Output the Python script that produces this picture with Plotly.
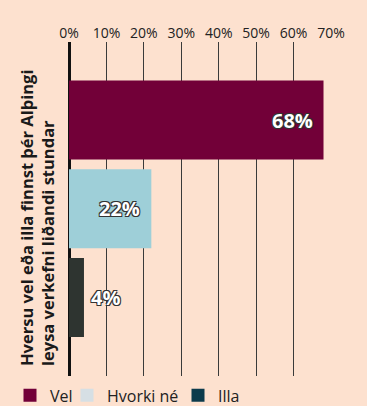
import plotly.graph_objects as go

categories = ["Vel", "Hvorki né", "Illa"]
values = [68, 22, 4]
bar_colors = ["#720038", "#9ecfd8", "#2e3430"]
legend_colors = ["#720038", "#d6dfe4", "#0c3b4c"]
label_pos = ["inside", "inside", "outside"]
tick_vals = [0, 10, 20, 30, 40, 50, 60, 70]
tick_text = [f"{v}%" for v in tick_vals]
y_title = "Hversu vel eða illa finnst þér Alþingi<br>leysa verkefni liðandi stundar"

BG = "#fde1cf"
FONT = "Open Sans"
PLOT_L, PLOT_W = 69, 262

fig = go.Figure()
fig.add_trace(go.Bar(
    x=values, y=categories, orientation="h",
    marker=dict(color=bar_colors, line=dict(width=0)),
    width=0.89, showlegend=False, hoverinfo="skip",
))

# one legend per entry so each can be placed like the reference
legend_left_px = [10, 67, 178]
legend_names = ["legend", "legend2", "legend3"]
for name, col, lg in zip(categories, legend_colors, legend_names):
    fig.add_trace(go.Scatter(
        x=[None], y=[None], mode="markers", name=name, legend=lg,
        marker=dict(symbol="square", size=13, color=col),
    ))

shadow = "1px 1px 0 #333, -1px -1px 0 #333, 1px -1px 0 #333, -1px 1px 0 #333"
for cat, v, pos in zip(categories, values, label_pos):
    inside = pos == "inside"
    fig.add_annotation(
        x=v, y=cat, text=f"<b>{v}%</b>", showarrow=False,
        xanchor="right" if inside else "left",
        xshift=-9 if inside else 5,
        font=dict(family=FONT, size=20, color="white", shadow=shadow),
    )

fig.add_annotation(
    x=(37 - PLOT_L) / PLOT_W, y=1 - (218 - 42) / 334, xref="paper", yref="paper",
    text=f"<b>{y_title}</b>",
    textangle=-90, showarrow=False, align="left",
    xanchor="center", yanchor="middle",
    font=dict(family=FONT, size=16.5, color="#1a1a1a"),
)

legend_common = dict(
    orientation="h", yanchor="middle", y=-0.058, xanchor="left",
    font=dict(family=FONT, size=16, color="#222"),
    bgcolor="rgba(0,0,0,0)", itemwidth=30,
)
layout_legends = {}
for lg, px in zip(legend_names, legend_left_px):
    layout_legends[lg] = dict(legend_common, x=(px - PLOT_L) / PLOT_W)

fig.update_layout(
    width=367, height=406,
    margin=dict(l=PLOT_L, r=367 - PLOT_L - PLOT_W, t=42, b=30, autoexpand=False),
    paper_bgcolor=BG, plot_bgcolor=BG,
    font=dict(family=FONT, color="#222"),
    showlegend=True,
    xaxis=dict(
        side="top", range=[0, 70], tickvals=tick_vals, ticktext=tick_text,
        showgrid=True, gridcolor="#3a3a3a", gridwidth=1,
        zeroline=True, zerolinecolor="#111", zerolinewidth=3,
        showline=False, ticks="", tickfont=dict(size=14, color="#222"),
        fixedrange=True,
    ),
    yaxis=dict(
        categoryorder="array", categoryarray=categories,
        range=[2.885, -0.879], showticklabels=False, showgrid=False,
        zeroline=False, ticks="", fixedrange=True,
    ),
    **layout_legends,
)

fig.write_html("out.html")
